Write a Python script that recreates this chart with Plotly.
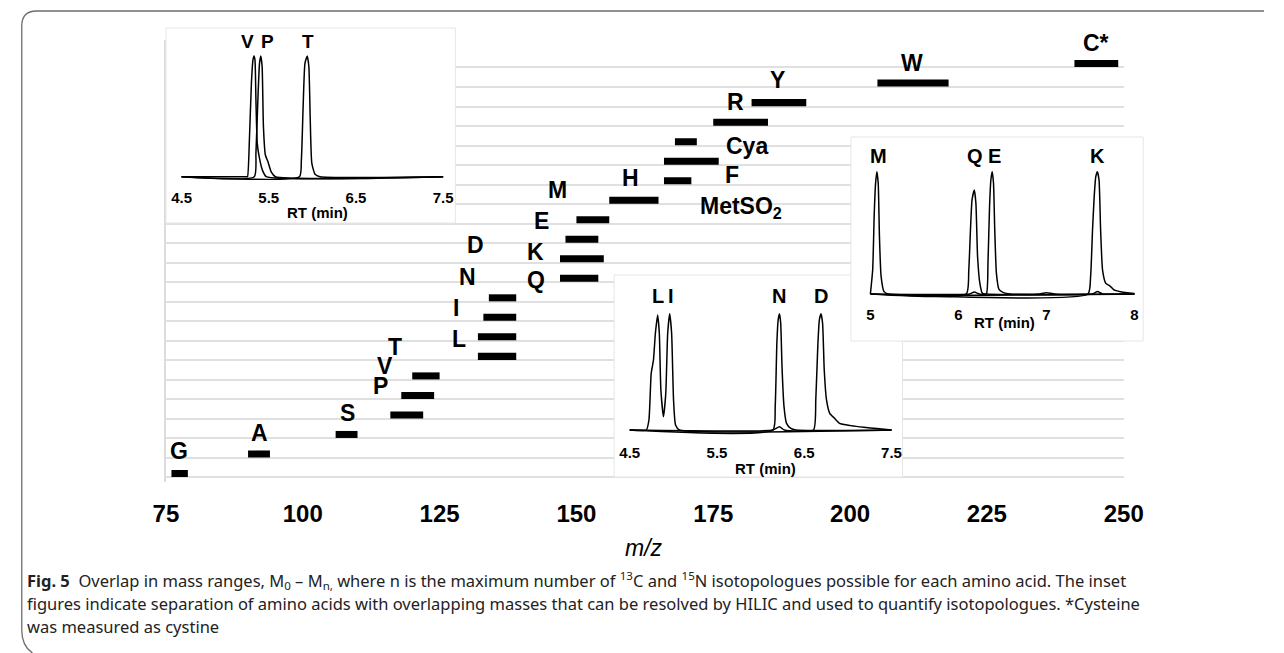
import plotly.graph_objects as go

W, H = 1284, 653

# ---------------- main chart data (m/z ranges M0..Mn) ----------------
amino = ["G", "A", "S", "P", "V", "T", "L", "I", "N", "D", "Q", "K", "E", "M",
         "H", "MetSO2", "F", "Cya", "R", "Y", "W", "C*"]
mz_start = [76, 90, 106, 116, 118, 120, 132, 132, 133, 134, 147, 147, 148, 150,
            156, 166, 166, 168, 175, 182, 205, 241]
mz_end = [79, 94, 110, 122, 124, 125, 139, 139, 139, 139, 154, 155, 154, 156,
          165, 171, 176, 172, 185, 192, 218, 249]
rows = list(range(len(amino)))
x_ticks = [75, 100, 125, 150, 175, 200, 225, 250]

# ---------------- inset chromatograms (RT min, relative intensity) ----------------
# inset 1: V, P, T
rt_V = [4.5, 5.241, 5.256, 5.278, 5.301, 5.319, 5.331, 5.342, 5.353, 5.368, 5.390, 5.427, 5.472, 7.5]
in_V = [0, 0, 0, 0.304, 0.774, 0.967, 1.0, 0.967, 0.635, 0.276, 0.166, 0.055, 0, 0]
rt_P = [4.5, 5.334, 5.353, 5.375, 5.394, 5.409, 5.424, 5.439, 5.461, 5.491, 5.528, 5.576, 7.5]
in_P = [0, 0, 0.194, 0.635, 0.939, 1.0, 0.911, 0.414, 0.180, 0.124, 0.04, 0, 0]
rt_T = [4.5, 5.852, 5.874, 5.893, 5.915, 5.941, 5.960, 5.975, 5.994, 6.031, 6.087, 7.5]
in_T = [0, 0, 0.138, 0.552, 0.939, 1.0, 0.911, 0.497, 0.11, 0.02, 0, 0]

# inset 2: L/I (same trace), N, D
rt_LI = [4.5, 4.690, 4.720, 4.746, 4.772, 4.794, 4.820, 4.839, 4.857, 4.887, 4.913,
         4.935, 4.958, 4.980, 5.002, 5.025, 5.069, 7.5]
in_LI = [0, 0, 0.087, 0.493, 0.609, 0.841, 1.0, 0.841, 0.348, 0.116, 0.319,
         0.841, 1.01, 0.841, 0.261, 0.043, 0, 0]
rt_N = [4.5, 6.141, 6.167, 6.186, 6.201, 6.216, 6.230, 6.245, 6.268, 6.297, 6.346, 6.402, 7.5]
in_N = [0, 0, 0.203, 0.754, 0.957, 1.01, 0.928, 0.551, 0.203, 0.058, 0.014, 0, 0]
rt_D = [4.5, 6.141, 6.216, 6.271, 6.606, 6.632, 6.655, 6.673, 6.692, 6.710, 6.729,
        6.755, 6.792, 6.848, 6.904, 7.034, 7.183, 7.332, 7.5]
in_D = [0, 0, 0.029, 0, 0, 0.261, 0.725, 0.957, 1.01, 0.928, 0.522,
        0.261, 0.145, 0.101, 0.058, 0.038, 0.023, 0.012, 0]

# inset 3: M, Q, E, K
rt_M = [5.0, 5.026, 5.044, 5.059, 5.074, 5.089, 5.103, 5.122, 5.155, 5.203, 8.0]
in_M = [0, 0.196, 0.660, 0.905, 1.0, 0.905, 0.469, 0.142, 0.019, 0, 0]
rt_Q = [5.0, 6.089, 6.118, 6.137, 6.155, 6.181, 6.199, 6.218, 6.244, 6.273, 6.310,
        7.52, 7.58, 7.64, 8.0]
in_Q = [0, 0, 0.196, 0.523, 0.769, 0.850, 0.741, 0.305, 0.087, 0.005, 0,
        0, 0.02, 0, 0]
rt_E = [5.0, 6.126, 6.181, 6.236, 6.317, 6.336, 6.354, 6.369, 6.384, 6.399, 6.413,
        6.432, 6.461, 6.513, 6.587, 6.90, 7.0, 7.10, 8.0]
in_E = [0, 0, 0.016, 0, 0, 0.251, 0.714, 0.932, 1.0, 0.905, 0.523,
        0.169, 0.038, 0.011, 0, 0, 0.01, 0, 0]
rt_K = [5.0, 7.472, 7.502, 7.524, 7.543, 7.561, 7.579, 7.598, 7.616, 7.638, 7.675,
        7.723, 7.768, 7.841, 7.915, 8.0]
in_K = [0, 0, 0.142, 0.523, 0.796, 0.959, 1.0, 0.932, 0.523, 0.196, 0.087,
        0.065, 0.033, 0.019, 0.011, 0.005]

# ---------------- helpers (layout geometry) ----------------
FONT = "Liberation Sans, Arial, sans-serif"


def fx(px):
    return px / W


def fy(py):
    return 1 - py / H


# main plot geometry
MX0, MX1 = 157, 1140          # pixel of m/z 75 and 250
MY_ROW0, MY_STEP = 473.5, 19.52
MY_BOT, MY_TOP = 482, 40


def mx(px):
    return 75 + (px - MX0) * (250 - 75) / (MX1 - MX0)


def my(py):
    return (MY_ROW0 - py) / MY_STEP


def inset_ranges(box, xa, xb, ya, yb):
    # box = (x0, x1, y0, y1) in px; xa=(val, px) ...
    x0, x1, y0, y1 = box
    sx = (xb[1] - xa[1]) / (xb[0] - xa[0])
    sy = (ya[1] - yb[1]) / (yb[0] - ya[0])
    xr = [xa[0] - (xa[1] - x0) / sx, xb[0] + (x1 - xb[1]) / sx]
    yr = [ya[0] - (y1 - ya[1]) / sy, ya[0] + (ya[1] - y0) / sy]
    return xr, yr


fig = go.Figure()

# bars
fig.add_trace(go.Bar(
    y=rows, x=[e - s for s, e in zip(mz_start, mz_end)], base=mz_start,
    orientation="h", width=0.36, marker=dict(color="black", line=dict(width=0)),
    xaxis="x", yaxis="y", hoverinfo="skip", showlegend=False))

# insets
insets = [
    ("x2", "y2", [(rt_V, in_V), (rt_P, in_P), (rt_T, in_T)]),
    ("x3", "y3", [(rt_LI, in_LI), (rt_N, in_N), (rt_D, in_D)]),
    ("x4", "y4", [(rt_M, in_M), (rt_Q, in_Q), (rt_E, in_E), (rt_K, in_K)]),
]
for xa, ya, traces in insets:
    for rt, it in traces:
        fig.add_trace(go.Scatter(x=rt, y=it, mode="lines", xaxis=xa, yaxis=ya,
                                 line=dict(color="black", width=1.5, shape="spline", smoothing=0.5),
                                 hoverinfo="skip", showlegend=False))

box1 = (157, 454, 28, 223)
box2 = (617, 913, 275, 477)
box3 = (860, 1160, 137, 341)
xr1, yr1 = inset_ranges(box1, (4.5, 173), (7.5, 441.5), (0, 176.7), (1, 56))
xr2, yr2 = inset_ranges(box2, (4.5, 633), (7.5, 901.7), (0, 430), (1, 315))
xr3, yr3 = inset_ranges(box3, (5, 880), (8, 1151), (0, 294), (1, 171.7))

grid_vals = [r - 0.2 for r in rows]


def inset_x(box, xr, ticks, label_py):
    return dict(domain=[fx(box[0]), fx(box[1])], range=xr, anchor="free",
                position=fy(label_py - 9.5), tickvals=ticks,
                ticktext=[("%g" % t) for t in ticks],
                tickfont=dict(family=FONT, size=15, color="black", weight="bold"),
                showgrid=False, zeroline=False, showline=False, ticks="")


def inset_y(box, yr, xname):
    return dict(domain=[fy(box[3]), fy(box[2])], range=yr, anchor=xname,
                showgrid=False, zeroline=False, showline=False,
                showticklabels=False, ticks="")


fig.update_layout(
    width=W, height=H, margin=dict(l=0, r=0, t=0, b=0),
    paper_bgcolor="white", plot_bgcolor="white", showlegend=False,
    xaxis=dict(domain=[fx(MX0), fx(MX1)], range=[75, 250], tickvals=x_ticks,
               tickfont=dict(family=FONT, size=24, color="black", weight="bold"),
               showgrid=False, zeroline=False, showline=False,
               ticks="outside", ticklen=10, tickcolor="rgba(0,0,0,0)"),
    yaxis=dict(domain=[fy(MY_BOT), fy(MY_TOP)], range=[my(MY_BOT), my(MY_TOP)],
               tickvals=grid_vals, showticklabels=False, ticks="",
               showgrid=True, gridcolor="#e0e0e0", gridwidth=2,
               zeroline=False, showline=True, linecolor="#dcdcdc", linewidth=1.5),
    xaxis2=inset_x(box1, xr1, [4.5, 5.5, 6.5, 7.5], 196.7),
    yaxis2=inset_y(box1, yr1, "x2"),
    xaxis3=inset_x(box2, xr2, [4.5, 5.5, 6.5, 7.5], 451.7),
    yaxis3=inset_y(box2, yr2, "x3"),
    xaxis4=inset_x(box3, xr3, [5, 6, 7, 8], 313),
    yaxis4=inset_y(box3, yr3, "x4"),
)

annotations = []
# main labels
label_text = {"MetSO2": "MetSO<sub>2</sub>"}
label_px = {
    "G": (170, 451), "A": (253, 433), "S": (343, 413), "P": (377, 386),
    "V": (382, 366), "T": (392, 347), "L": (458, 339), "I": (455, 308),
    "N": (467, 277), "D": (475, 245), "Q": (537, 280), "K": (536, 252),
    "E": (542, 221), "M": (559, 190), "H": (634, 178), "MetSO2": (747, 207),
    "F": (738, 175), "Cya": (753, 146), "R": (742, 102), "Y": (785, 80),
    "W": (923, 63), "C*": (1112, 43),
}
for name in amino:
    px, py = label_px[name]
    annotations.append(dict(x=mx(px), y=my(py), xref="x", yref="y",
                            text=label_text.get(name, name), showarrow=False,
                            xanchor="center", yanchor="middle",
                            font=dict(family=FONT, size=23, color="black", weight="bold")))

# inset peak labels
peak_labels = [
    ("V", 241, 42, 19), ("P", 261, 42, 19), ("T", 303, 42, 19),
    ("L", 662, 296, 20), ("I", 675, 296, 20), ("N", 786, 296, 20), ("D", 829, 296, 20),
    ("M", 888, 156, 20), ("Q", 987, 156, 20), ("E", 1007, 156, 20), ("K", 1113, 156, 20),
]
for t, px, py, s in peak_labels:
    annotations.append(dict(x=fx(px), y=fy(py), xref="paper", yref="paper", text=t,
                            showarrow=False, xanchor="center", yanchor="middle",
                            font=dict(family=FONT, size=s, color="black", weight="bold")))
# inset axis titles
for px, py in [(313, 212), (772, 468), (1018, 323)]:
    annotations.append(dict(x=fx(px), y=fy(py), xref="paper", yref="paper", text="RT (min)",
                            showarrow=False, xanchor="center", yanchor="middle",
                            font=dict(family=FONT, size=15, color="black", weight="bold")))
# main axis title
annotations.append(dict(x=fx(648), y=fy(548), xref="paper", yref="paper",
                        text="<i>m/z</i>", showarrow=False, xanchor="center", yanchor="middle",
                        font=dict(family=FONT, size=23, color="black")))

# caption
CAP_FONT = "Noto Sans, sans-serif"
caption = [
    ("<b>Fig. 5</b>  Overlap in mass ranges, M<sub>0</sub> \u2013 M<sub>n,</sub> where n is the maximum "
     "number of <sup>13</sup>C and <sup>15</sup>N isotopologues possible for each amino acid. The inset", 580),
    ("figures indicate separation of amino acids with overlapping masses that can be resolved by HILIC "
     "and used to quantify isotopologues. *Cysteine", 603),
    ("was measured as cystine", 626),
]
for txt, py in caption:
    annotations.append(dict(x=fx(12), y=fy(py), xref="paper", yref="paper", text=txt,
                            showarrow=False, xanchor="left", yanchor="middle", align="left",
                            font=dict(family=CAP_FONT, size=16.5, color="#222")))
fig.update_layout(annotations=annotations)

# decorative frame and inset borders
shapes = []
frame = "M %f,%f L %f,%f Q %f,%f %f,%f L %f,%f Q %f,%f %f,%f" % (
    fx(1284), fy(11), fx(24), fy(11), fx(9), fy(11), fx(9), fy(26),
    fx(9), fy(630), fx(9), fy(646), fx(20), fy(653))
shapes.append(dict(type="path", path=frame, xref="paper", yref="paper",
                   line=dict(color="#6e6e6e", width=1.3)))
for b in (box1, box3):
    shapes.append(dict(type="rect", xref="paper", yref="paper",
                       x0=fx(b[0]), x1=fx(b[1]), y0=fy(b[3]), y1=fy(b[2]),
                       line=dict(color="#e6e6e6", width=1), layer="above"))
# inset 2 border, partly hidden behind inset 3
p2 = "M %f,%f L %f,%f L %f,%f L %f,%f L %f,%f" % (
    fx(860), fy(275), fx(617), fy(275), fx(617), fy(477), fx(913), fy(477), fx(913), fy(341))
shapes.append(dict(type="path", path=p2, xref="paper", yref="paper",
                   line=dict(color="#e6e6e6", width=1), layer="above"))
fig.update_layout(shapes=shapes)

fig.write_html("out.html")
